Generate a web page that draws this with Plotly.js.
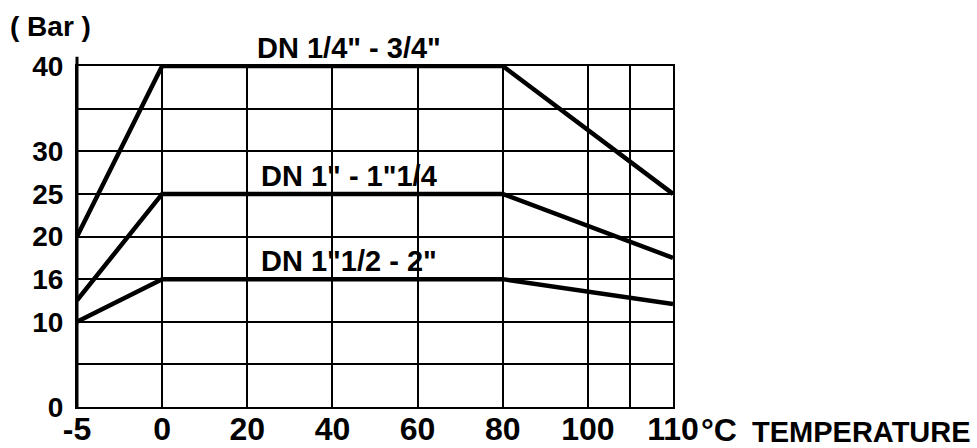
<!DOCTYPE html>
<html>
<head>
<meta charset="utf-8">
<script src="https://cdn.plot.ly/plotly-3.0.1.min.js"></script>
<style>html,body{margin:0;padding:0;background:#fff;}#chart{width:977px;height:448px;}</style>
</head>
<body>
<div id="chart"></div>
<script>
// Temperature knots of the (non-linear) x scale; each knot is one equal grid step
const xKnots = [-5, 0, 20, 40, 60, 80, 100, 110];
const xTickLabels = ['-5', '0', '20', '40', '60', '80', '100', '110'];
const xExtraGrid = [105];
// Pressure knots of the (non-linear) y scale; each knot is one equal grid step
const yKnots = [0, 5, 10, 16, 20, 25, 30, 35, 40];
const yTickLabels = ['0', '', '10', '16', '20', '25', '30', '', '40'];

// Series (temperature °C, pressure bar)
const seriesNames = ['DN 1/4" - 3/4"', 'DN 1" - 1"1/4', 'DN 1"1/2 - 2"'];
const temps = [-5, 0, 80, 110];
const pSmall = [20, 40, 40, 25];
const pMedium = [13, 25, 25, 18];
const pLarge = [10, 16, 16, 12.5];
const labelTemp = 44;

function interp(knots, v) {
  for (let i = 0; i < knots.length - 1; i++) {
    if (v >= knots[i] && v <= knots[i + 1]) {
      return i + (v - knots[i]) / (knots[i + 1] - knots[i]);
    }
  }
  return v < knots[0] ? 0 : knots.length - 1;
}
const mx = v => interp(xKnots, v);
const my = v => interp(yKnots, v);

const seriesVals = [pSmall, pMedium, pLarge];
const traces = seriesVals.map((vals, i) => ({
  type: 'scatter', mode: 'lines', name: seriesNames[i],
  x: temps.map(mx), y: vals.map(my),
  line: {color: '#000', width: 4.5}, hoverinfo: 'skip', cliponaxis: false
}));

const xTickVals = xKnots.map(mx).concat(xExtraGrid.map(mx));
const xTickText = xTickLabels.concat(xExtraGrid.map(() => ''));

const font = {family: '"Liberation Sans", Arial, sans-serif', color: '#000', weight: 700};

const annotations = seriesVals.map((vals, i) => ({
  x: mx(labelTemp), y: my(vals[1]), xref: 'x', yref: 'y',
  text: seriesNames[i], showarrow: false, yanchor: 'bottom', yshift: 0,
  font: Object.assign({}, font, {size: 29})
}));
annotations.push({xref: 'paper', yref: 'paper', x: -0.045, y: 1.116, text: '( Bar )',
  showarrow: false, xanchor: 'center', yanchor: 'middle', font: Object.assign({}, font, {size: 28})});
annotations.push({xref: 'paper', yref: 'paper', x: 1.044, y: -0.068, text: '°C',
  showarrow: false, xanchor: 'left', yanchor: 'middle', font: Object.assign({}, font, {size: 32})});
annotations.push({xref: 'paper', yref: 'paper', x: 1.316, y: -0.072, text: 'TEMPERATURE',
  showarrow: false, xanchor: 'center', yanchor: 'middle', font: Object.assign({}, font, {size: 29})});

const layout = {
  width: 977, height: 448,
  margin: {l: 77, r: 304, t: 66, b: 41, pad: 0},
  paper_bgcolor: '#fff', plot_bgcolor: '#fff',
  showlegend: false,
  xaxis: {
    range: [0, xKnots.length - 1], tickmode: 'array', tickvals: xTickVals, ticktext: xTickText,
    showgrid: true, gridcolor: '#000', gridwidth: 2, zeroline: false,
    showline: true, linecolor: '#000', linewidth: 2, mirror: true,
    ticks: '', ticklabelstandoff: -7, tickfont: Object.assign({}, font, {size: 32}),
    fixedrange: true
  },
  yaxis: {
    range: [0, yKnots.length - 1], tickmode: 'array', tickvals: yKnots.map(my), ticktext: yTickLabels,
    showgrid: true, gridcolor: '#000', gridwidth: 2, zeroline: false,
    showline: true, linecolor: '#000', linewidth: 2, mirror: true,
    ticks: '', ticklabelstandoff: 6, tickfont: Object.assign({}, font, {size: 28}),
    fixedrange: true
  },
  shapes: [{type: 'line', xref: 'paper', yref: 'paper', x0: 0, x1: 0, y0: 0, y1: 1.027,
    line: {color: '#000', width: 3}}],
  annotations: annotations
};

Plotly.newPlot('chart', traces, layout, {displayModeBar: false, staticPlot: true});
</script>
</body>
</html>
